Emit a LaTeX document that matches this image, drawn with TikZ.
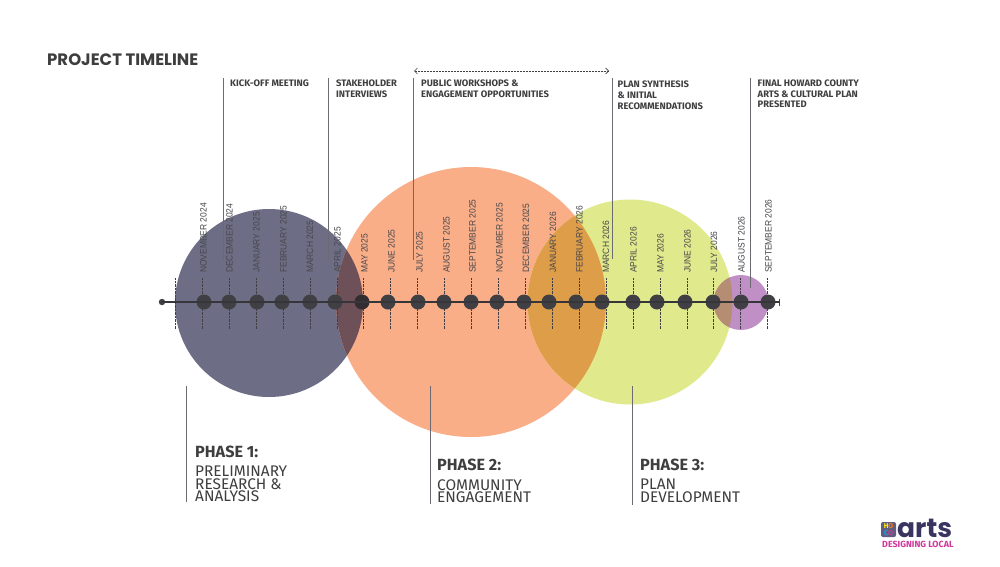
\documentclass[tikz,border=0pt]{standalone}
\usepackage{fontspec}
\setmainfont{Fira Sans}
\newfontfamily\titlefont{Poppins}
\newfontfamily\monthfont[FakeStretch=0.92]{Liberation Sans}
\usetikzlibrary{arrows.meta}
\definecolor{navyc}{HTML}{6D6D85}
\definecolor{orangec}{HTML}{F9AE88}
\definecolor{greenc}{HTML}{E0E98B}
\definecolor{purplec}{HTML}{C08FC6}
\definecolor{navyorange}{HTML}{6E5058}
\definecolor{orangegreen}{HTML}{DE9D48}
\definecolor{greenpurple}{HTML}{B48D72}
\definecolor{inkc}{HTML}{3F3F44}
\definecolor{inkdark}{HTML}{332C30}
\definecolor{monthc}{HTML}{47474C}
\definecolor{linec}{HTML}{6A6A70}
\definecolor{txtc}{HTML}{3E3E3E}
\definecolor{logonavy}{HTML}{3A3560}
\definecolor{logopink}{HTML}{D0379B}
\tikzset{
  month/.style={font=\monthfont\fontsize{9.2}{10}\selectfont,text=monthc,rotate=90,anchor=west,inner sep=0pt},
  note/.style={font=\fontsize{9.4}{11}\selectfont\bfseries,text=txtc,align=left,anchor=north west,inner sep=0pt},
  phase/.style={font=\fontsize{16.2}{16}\selectfont\bfseries,text=txtc,anchor=base west,inner sep=0pt},
  phasetxt/.style={font=\fontsize{15.4}{12.2}\selectfont,text=txtc,align=left,anchor=north west,inner sep=0pt},
  leader/.style={draw=linec,line width=0.9pt},
  dotline/.style={draw=inkc,line width=0.9pt,dash pattern=on 1pt off 0.4pt},
  tdot/.style={circle,fill=inkc,minimum size=15pt,inner sep=0pt}
}
\begin{document}
\begin{tikzpicture}[x=1pt,y=-1pt]
\useasboundingbox[fill=white] (0,0) rectangle (1000,566);
% phase circles
\fill[navyc] (269,303) circle[radius=94];
\fill[orangec] (471,302) circle[radius=135];
\fill[greenc] (630,302) circle[radius=102.5];
\fill[purplec] (741,302.5) circle[radius=27.5];
\begin{scope}
  \clip (269,303) circle[radius=94];
  \fill[navyorange] (471,302) circle[radius=135];
\end{scope}
\begin{scope}
  \clip (471,302) circle[radius=135];
  \fill[orangegreen] (630,302) circle[radius=102.5];
\end{scope}
\begin{scope}
  \clip (630,302) circle[radius=102.5];
  \fill[greenpurple] (741,302.5) circle[radius=27.5];
\end{scope}
% dotted ticks
\foreach \x in {175,202,229,256,283,310,337,363,390,417,444,471,498,525,552,579,606,633,660,687,713,740,767}
  \draw[dotline] (\x,278) -- (\x,329);
% month labels
\foreach \x/\t in {203.5/NOVEMBER 2024,229.5/DECEMBER 2024,256.5/JANUARY 2025,283.5/FEBRUARY 2025,310/MARCH 2025,337.5/APRIL 2025,364.5/MAY 2025,391.5/JUNE 2025,419.5/JULY 2025,446.5/AUGUST 2025,472.5/SEPTEMBER 2025,499.5/NOVEMBER 2025,526/DECEMBER 2025,553/JANUARY 2026,579.5/FEBRUARY 2026,606/MARCH 2026,633.5/APRIL 2026,660.5/MAY 2026,687.5/JUNE 2026,714/JULY 2026,741.5/AUGUST 2026,768.5/SEPTEMBER 2026}
  \node[month] at (\x,273) {\t};
% timeline
\coordinate (tstart) at (162,302);
\coordinate (tend) at (780,302);
\draw[inkc,line width=1.6pt] (tstart) -- (tend);
\fill[inkc] (tstart) circle[radius=3.2];
\draw[inkc,line width=1.6pt] (779.5,298.5) -- (779.5,305.5);
\foreach \x in {204,229,257,282,310,335,388,418,444,471,497,524,549,576,602,633,657,685,713,741,768}
  \node[tdot] at (\x,302) {};
\node[tdot,fill=inkdark] at (362,302) {};
\draw[inkc!85!black,line width=1.1pt] (tstart) -- (tend);
% leaders
\coordinate (a1) at (223,78); \coordinate (a2) at (223,260);
\coordinate (b1) at (328,78); \coordinate (b2) at (328,260);
\coordinate (c1) at (413.5,78); \coordinate (c2) at (413.5,260);
\coordinate (d1) at (612.5,78); \coordinate (d2) at (612.5,259);
\coordinate (e1) at (750.5,78); \coordinate (e2) at (750.5,288);
\foreach \p/\q in {a1/a2,b1/b2,c1/c2,d1/d2,e1/e2} \draw[leader] (\p) -- (\q);
\coordinate (wl) at (414,71); \coordinate (wr) at (609,71);
\draw[inkc,line width=0.6pt,dash pattern=on 1pt off 0.5pt,{Straight Barb[length=3pt,width=6pt]}-{Straight Barb[length=3pt,width=6pt]}] (wl) -- (wr);
% notes
\node[note] (n1) at (230,80) {KICK-OFF MEETING};
\node[note] (n2) at (336,80) {STAKEHOLDER\\INTERVIEWS};
\node[note] (n3) at (421,80) {PUBLIC WORKSHOPS \&\\ENGAGEMENT OPPORTUNITIES};
\node[note] (n4) at (617.5,80.5) {PLAN SYNTHESIS\\\& INITIAL\\RECOMMENDATIONS};
\node[note,font=\fontsize{9.4}{10.3}\selectfont\bfseries] (n5) at (757.5,80) {FINAL HOWARD COUNTY\\ARTS \& CULTURAL PLAN\\PRESENTED};
% title
\node[anchor=base west,inner sep=0pt,font=\titlefont\fontsize{16.5}{16}\selectfont\bfseries,text=txtc] (title) at (47,65) {PROJECT TIMELINE};
% phases
\coordinate (p1a) at (186,386); \coordinate (p1b) at (186,502);
\coordinate (p2a) at (430,386); \coordinate (p2b) at (430,504);
\coordinate (p3a) at (632,386); \coordinate (p3b) at (632,505);
\foreach \p/\q in {p1a/p1b,p2a/p2b,p3a/p3b} \draw[leader] (\p) -- (\q);
\node[phase] (ph1) at (195,457) {PHASE 1:};
\node[phasetxt] (pt1) at (195,466) {PRELIMINARY\\RESEARCH \&\\ANALYSIS};
\node[phase] (ph2) at (437,470) {PHASE 2:};
\node[phasetxt] (pt2) at (437,479) {COMMUNITY\\ENGAGEMENT};
\node[phase] (ph3) at (640,470) {PHASE 3:};
\node[phasetxt] (pt3) at (640,479) {PLAN\\DEVELOPMENT};
% logo
\fill[logonavy!80,rounded corners=2pt] (881,522) rectangle (896,537);
\node[inner sep=0pt,font=\fontsize{7}{7}\selectfont\bfseries,align=center] (lg0) at (888.5,529.5) {{\color{yellow}H}{\color{orange}O}\\{\color{cyan}C}{\color{logopink}O}};
\node[anchor=base west,inner sep=0pt,font=\titlefont\fontsize{26.5}{25}\selectfont\bfseries,text=logonavy] (lg1) at (897,537) {arts};
\node[anchor=base west,inner sep=0pt,font=\fontsize{8.9}{8}\selectfont\bfseries,text=logopink] (lg2) at (882,547) {DESIGNING LOCAL};
\end{tikzpicture}
\end{document}
